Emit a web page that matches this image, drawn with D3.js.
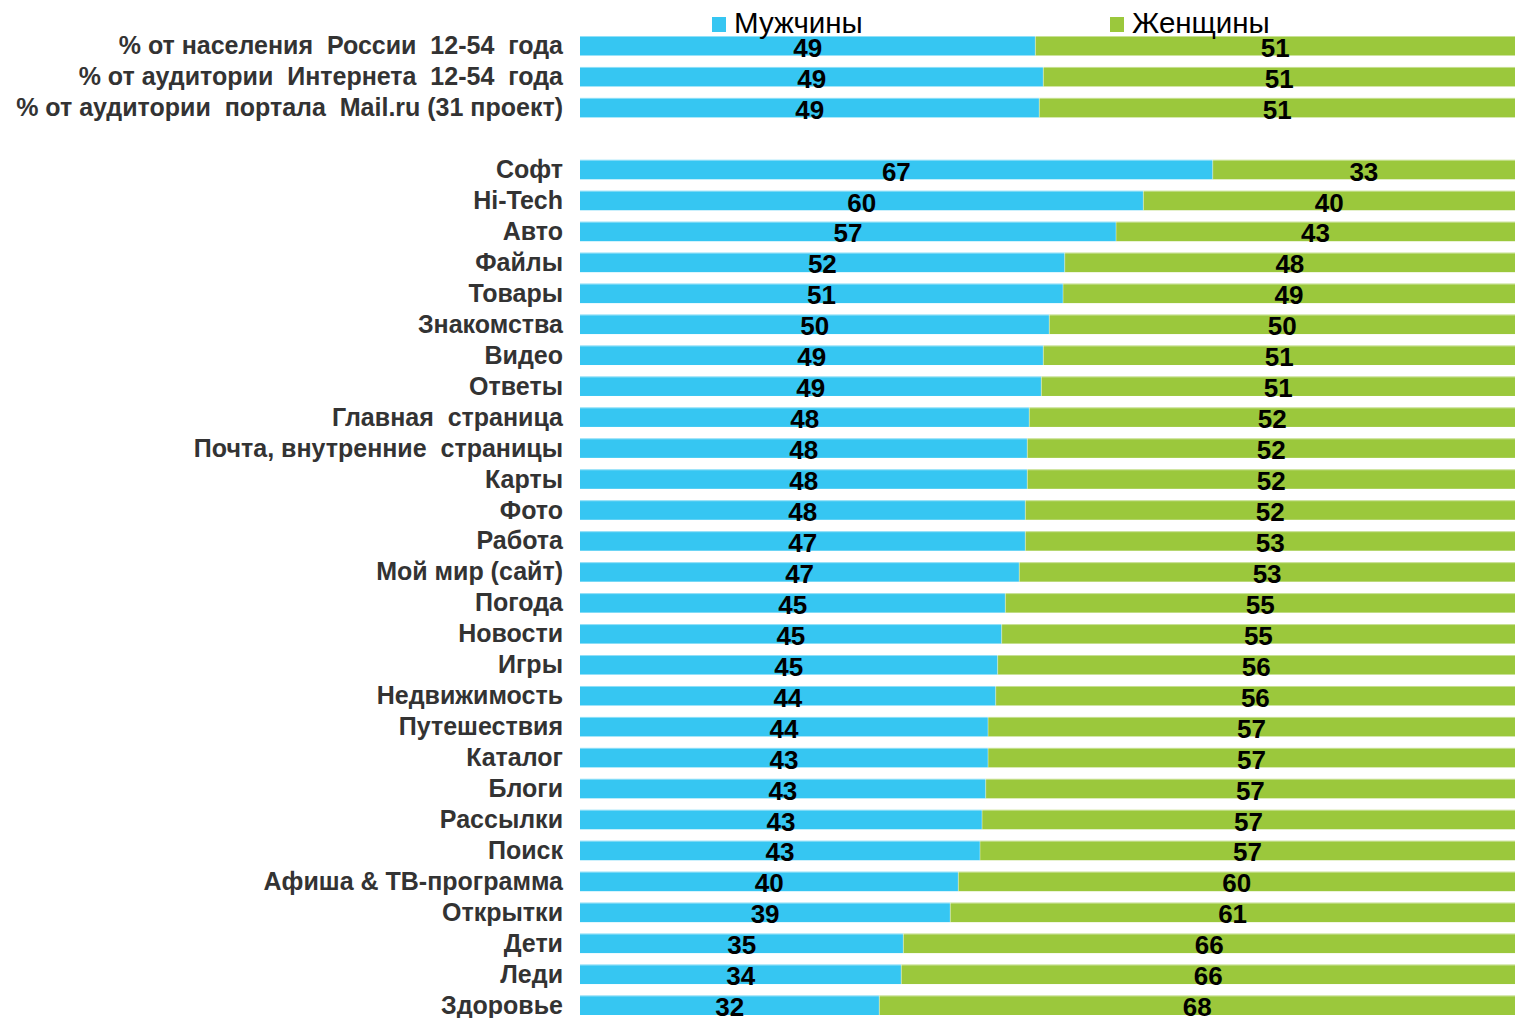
<!DOCTYPE html>
<html><head><meta charset="utf-8">
<script src="https://cdn.jsdelivr.net/npm/d3@7"></script>
<style>html,body{margin:0;padding:0;background:#fff;}svg{display:block;}</style>
</head><body>
<svg id="chart" width="1515" height="1018"></svg>
<script>
const categories = [
  "% от населения  России  12-54  года",
  "% от аудитории  Интернета  12-54  года",
  "% от аудитории  портала  Mail.ru (31 проект)",
  "",
  "Софт","Hi-Tech","Авто","Файлы","Товары","Знакомства","Видео","Ответы",
  "Главная  страница","Почта, внутренние  страницы","Карты","Фото","Работа",
  "Мой мир (сайт)","Погода","Новости","Игры","Недвижимость","Путешествия",
  "Каталог","Блоги","Рассылки","Поиск","Афиша & ТВ-программа","Открытки",
  "Дети","Леди","Здоровье"
];
// share of men (bar split), in %
const menShare = [48.7,49.55,49.12,null,
  67.67,60.25,57.33,51.84,51.66,50.19,49.55,49.34,48.05,47.84,47.84,47.63,47.63,
  46.98,45.49,45.1,44.67,44.46,43.64,43.64,43.39,43.0,42.78,40.46,39.6,34.58,34.36,32.01];
const menLabels = [49,49,49,null,67,60,57,52,51,50,49,49,48,48,48,48,47,47,45,45,45,44,44,43,43,43,43,40,39,35,34,32];
const womenLabels = [51,51,51,null,33,40,43,48,49,50,51,51,52,52,52,52,53,53,55,55,56,56,57,57,57,57,57,60,61,66,66,68];
const seriesNames = ["Мужчины","Женщины"];
const colors = ["#36C6F2","#9BC83C"];

const rows = categories.map((c,i)=>({key:"r"+i, name:c, men:menShare[i], ml:menLabels[i], wl:womenLabels[i]}));
const svg = d3.select("#chart");
const font = "'Liberation Sans', Arial, sans-serif";

const x = d3.scaleLinear().domain([0,100]).range([580,1515]);
const y = d3.scaleBand().domain(rows.map(r=>r.key)).range([36,1015]).paddingInner(0.37).paddingOuter(0);
const bh = y.bandwidth();
const data = rows.filter(r=>r.men!=null);

const g = svg.append("g");
const row = g.selectAll("g.row").data(data).join("g").attr("class","row");
row.append("rect").attr("x",x(0)).attr("y",d=>y(d.key)).attr("width",d=>x(d.men)-x(0)).attr("height",bh)
  .attr("fill",colors[0]);
row.append("rect").attr("x",d=>x(d.men)).attr("y",d=>y(d.key)).attr("width",d=>x(100)-x(d.men)).attr("height",bh)
  .attr("fill",colors[1]);
// thin light edges
row.append("line").attr("x1",x(0)).attr("x2",x(100)).attr("y1",d=>y(d.key)+0.5).attr("y2",d=>y(d.key)+0.5)
  .attr("stroke","#fff").attr("stroke-opacity",0.45);
row.append("line").attr("x1",d=>x(d.men)).attr("x2",d=>x(d.men)).attr("y1",d=>y(d.key)).attr("y2",d=>y(d.key)+bh)
  .attr("stroke","#fff").attr("stroke-opacity",0.4);

row.append("text").attr("x",d=>(x(0)+x(d.men))/2).attr("y",d=>y(d.key)+bh/2+11)
  .attr("text-anchor","middle").attr("font-family",font).attr("font-weight","bold").attr("font-size",26)
  .attr("fill","#000").text(d=>d.ml);
row.append("text").attr("x",d=>(x(d.men)+x(100))/2).attr("y",d=>y(d.key)+bh/2+11)
  .attr("text-anchor","middle").attr("font-family",font).attr("font-weight","bold").attr("font-size",26)
  .attr("fill","#000").text(d=>d.wl);

row.append("text").attr("x",563).attr("y",d=>y(d.key)+bh/2+8.5)
  .attr("text-anchor","end").attr("font-family",font).attr("font-weight","bold").attr("font-size",25)
  .attr("fill","#333").style("white-space","pre").text(d=>d.name);

// legend
const legendX = [712,1110];
const leg = svg.append("g").selectAll("g").data(seriesNames).join("g");
leg.append("rect").attr("x",(d,i)=>legendX[i]).attr("y",17).attr("width",14).attr("height",15).attr("fill",(d,i)=>colors[i]);
leg.append("text").attr("x",(d,i)=>legendX[i]+22).attr("y",33).attr("font-family",font).attr("font-size",29.5)
  .attr("fill","#000").text(d=>d);
</script>
</body></html>
